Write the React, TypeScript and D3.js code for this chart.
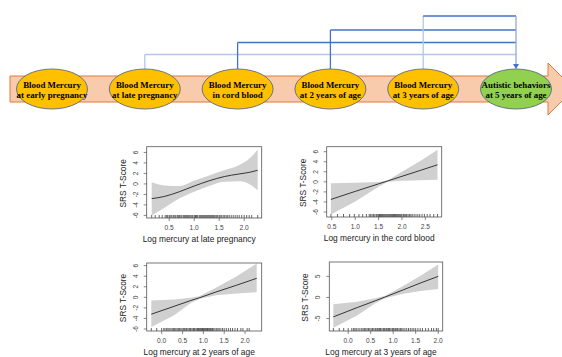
import React, { useEffect, useRef } from 'react';
import * as d3 from 'd3';

// timeline nodes
const nodeLabels = [
  ['Blood Mercury', 'at early pregnancy'],
  ['Blood Mercury', 'at late pregnancy'],
  ['Blood Mercury', 'in cord blood'],
  ['Blood Mercury', 'at 2 years of age'],
  ['Blood Mercury', 'at 3 years of age'],
  ['Autistic behaviors', 'at 5 years of age'],
];
// which nodes link to the outcome
const linkSources = [1, 2, 3, 4];

// late pregnancy
const lateX = [0.15, 0.4, 0.7, 1.0, 1.3, 1.6, 1.9, 2.1, 2.27];
const lateFit = [-2.8, -2.4, -1.5, -0.4, 0.6, 1.4, 1.9, 2.2, 2.6];
const lateUpper = [0.3, -0.3, -0.4, 0.6, 1.6, 2.6, 3.6, 4.8, 6.5];
const lateLower = [-6.0, -4.6, -2.8, -1.5, -0.4, 0.4, 0.5, 0.0, -1.2];
const lateRug = [0.15, 0.22, 0.3, 0.36, 0.42, 0.45, 0.47, 0.5, 0.52, 0.55, 0.58, 0.6, 0.63, 0.66, 0.68, 0.7, 0.72, 0.75, 0.78, 0.8, 0.82, 0.84, 0.86, 0.88, 0.9, 0.92, 0.95, 0.97, 1.0, 1.02, 1.03, 1.05, 1.07, 1.1, 1.12, 1.14, 1.16, 1.18, 1.2, 1.22, 1.24, 1.26, 1.28, 1.3, 1.32, 1.34, 1.36, 1.38, 1.4, 1.42, 1.45, 1.47, 1.5, 1.52, 1.55, 1.58, 1.61, 1.64, 1.67, 1.7, 1.74, 1.78, 1.82, 1.86, 1.9, 1.95, 2.0, 2.05, 2.1, 2.15, 2.27];

// cord blood
const cordX = [0.48, 1.0, 1.5, 1.7, 2.0, 2.4, 2.76];
const cordFit = [-3.5, -1.9, -0.4, 0.2, 1.1, 2.3, 3.4];
const cordUpper = [-0.3, -0.2, -0.05, 0.3, 2.0, 4.2, 6.4];
const cordLower = [-6.5, -3.9, -1.0, 0.0, 0.2, 0.3, 0.4];
const cordRug = [0.48, 0.62, 0.75, 0.88, 0.98, 1.08, 1.16, 1.24, 1.3, 1.33, 1.36, 1.39, 1.42, 1.45, 1.47, 1.5, 1.52, 1.54, 1.56, 1.58, 1.6, 1.62, 1.64, 1.66, 1.68, 1.7, 1.72, 1.74, 1.76, 1.78, 1.8, 1.82, 1.84, 1.86, 1.88, 1.9, 1.92, 1.94, 1.96, 1.98, 2.0, 2.03, 2.05, 2.08, 2.1, 2.13, 2.16, 2.19, 2.22, 2.26, 2.3, 2.34, 2.38, 2.43, 2.48, 2.54, 2.6, 2.68, 2.76];

// 2 years
const y2X = [-0.25, 0.3, 0.7, 0.9, 1.3, 1.8, 2.28];
const y2Fit = [-3.2, -1.7, -0.6, -0.1, 1.0, 2.3, 3.6];
const y2Upper = [-0.6, -0.4, -0.1, 0.2, 1.8, 4.0, 6.4];
const y2Lower = [-5.6, -3.4, -1.1, -0.3, 0.4, 0.7, 0.95];
const y2Rug = [-0.25, -0.12, 0.0, 0.05, 0.08, 0.12, 0.15, 0.18, 0.22, 0.25, 0.28, 0.31, 0.34, 0.37, 0.4, 0.43, 0.46, 0.49, 0.52, 0.55, 0.58, 0.6, 0.63, 0.66, 0.68, 0.7, 0.73, 0.76, 0.78, 0.8, 0.83, 0.86, 0.88, 0.9, 0.92, 0.94, 0.96, 0.98, 1.0, 1.02, 1.04, 1.06, 1.08, 1.1, 1.12, 1.15, 1.17, 1.2, 1.22, 1.25, 1.28, 1.32, 1.35, 1.38, 1.42, 1.46, 1.5, 1.55, 1.6, 1.65, 1.7, 1.76, 1.82, 1.9, 1.95, 2.05, 2.1];

// 3 years
const y3X = [-0.33, 0.2, 0.6, 0.82, 1.2, 1.6, 2.0];
const y3Fit = [-4.6, -2.4, -0.8, 0.1, 1.7, 3.4, 5.0];
const y3Upper = [-1.6, -1.0, -0.2, 0.4, 2.6, 5.1, 7.8];
const y3Lower = [-7.2, -4.3, -1.4, -0.2, 0.8, 1.5, 2.0];
const y3Rug = [-0.33, -0.2, -0.1, 0.0, 0.08, 0.12, 0.15, 0.18, 0.22, 0.26, 0.3, 0.33, 0.36, 0.39, 0.42, 0.45, 0.48, 0.51, 0.54, 0.57, 0.6, 0.62, 0.65, 0.68, 0.7, 0.72, 0.75, 0.78, 0.8, 0.82, 0.85, 0.88, 0.9, 0.92, 0.95, 0.98, 1.0, 1.02, 1.05, 1.08, 1.1, 1.13, 1.16, 1.19, 1.22, 1.26, 1.3, 1.34, 1.38, 1.42, 1.46, 1.5, 1.55, 1.6, 1.65, 1.72, 1.78, 1.85, 1.9, 1.96, 2.0];

const panels = [
  { title: 'Log mercury at late pregnancy', box: [146.7, 146.7, 261.7, 218], xDomain: [0.05, 2.35], yDomain: [-6.5, 7.1], xTicks: [0.5, 1, 1.5, 2], yTicks: [-6, -4, -2, 0, 2, 4, 6], x: lateX, fit: lateFit, upper: lateUpper, lower: lateLower, rug: lateRug, smooth: true },
  { title: 'Log mercury in the cord blood', box: [326.7, 146.7, 441.7, 217], xDomain: [0.39, 2.85], yDomain: [-7.0, 7.0], xTicks: [0.5, 1, 1.5, 2, 2.5], yTicks: [-6, -4, -2, 0, 2, 4, 6], x: cordX, fit: cordFit, upper: cordUpper, lower: cordLower, rug: cordRug, smooth: false },
  { title: 'Log mercury at 2 years of age', box: [146.7, 263, 261.7, 331], xDomain: [-0.36, 2.4], yDomain: [-6.38, 6.5], xTicks: [0, 0.5, 1, 1.5, 2], yTicks: [-6, -4, -2, 0, 2, 4, 6], x: y2X, fit: y2Fit, upper: y2Upper, lower: y2Lower, rug: y2Rug, smooth: false },
  { title: 'Log mercury at 3 years of age', box: [329.3, 262, 442.7, 331], xDomain: [-0.42, 2.1], yDomain: [-7.95, 8.4], xTicks: [0, 0.5, 1, 1.5, 2], yTicks: [-5, 0, 5], x: y3X, fit: y3Fit, upper: y3Upper, lower: y3Lower, rug: y3Rug, smooth: false },
];

export default function App() {
  const ref = useRef<SVGSVGElement>(null);

  useEffect(() => {
    const svg = d3.select(ref.current);
    svg.selectAll('*').remove();

    // ---- timeline ----
    const top = svg.append('g');
    const nodeX = d3.scalePoint<number>().domain(d3.range(nodeLabels.length)).range([52, 516]);
    const cy = 89, rx = 35.5, ry = 20;

    top.append('path')
      .attr('d', 'M10,76 H548 V63 L574,89 L548,115 V102 H10 Z')
      .attr('fill', '#F8CBAD').attr('stroke', '#E07B39').attr('stroke-width', 1);

    // connectors, one level per source
    const levels = [54.5, 42.5, 30, 16];
    const colors = ['#B4C7E7', '#4472C4', '#4472C4', '#4472C4'];
    const target = nodeX(5)!;
    linkSources.forEach((s, i) => {
      const sx = nodeX(s)!;
      top.append('line').attr('x1', sx).attr('x2', sx).attr('y1', cy - ry).attr('y2', levels[i])
        .attr('stroke', i === 3 || i === 0 ? '#B4C7E7' : colors[i]).attr('stroke-width', 1.3);
      top.append('line').attr('x1', sx).attr('x2', target).attr('y1', levels[i]).attr('y2', levels[i])
        .attr('stroke', colors[i]).attr('stroke-width', 1.3);
    });
    top.append('line').attr('x1', target).attr('x2', target).attr('y1', d3.min(levels)!).attr('y2', cy - ry - 4)
      .attr('stroke', '#8FAADC').attr('stroke-width', 1.3);
    top.append('path')
      .attr('d', `M${target - 3},${cy - ry - 5} L${target + 3},${cy - ry - 5} L${target},${cy - ry} Z`)
      .attr('fill', '#4472C4');

    nodeLabels.forEach((lines, i) => {
      const g = top.append('g').attr('transform', `translate(${nodeX(i)},${cy})`);
      g.append('ellipse').attr('rx', rx).attr('ry', ry)
        .attr('fill', i === 5 ? '#92D050' : '#FFC000').attr('stroke', '#5B6B85').attr('stroke-width', 0.9);
      lines.forEach((t, j) => {
        g.append('text').attr('y', j === 0 ? -1.5 : 9).attr('text-anchor', 'middle')
          .style('font-family', '"Liberation Serif", "DejaVu Serif", serif').style('font-weight', 'bold')
          .style('font-size', '8.9px').attr('fill', '#000').text(t);
      });
    });

    // ---- panels ----
    const sans = '"Liberation Sans", Arial, sans-serif';
    panels.forEach(p => {
      const [x0, y0, x1, y1] = p.box;
      const xs = d3.scaleLinear().domain(p.xDomain).range([x0, x1]);
      const ys = d3.scaleLinear().domain(p.yDomain).range([y1, y0]);
      const g = svg.append('g');
      const pts = p.x.map((v, i) => ({ x: v, f: p.fit[i], u: p.upper[i], l: p.lower[i] }));
      const curve = p.smooth ? d3.curveMonotoneX : d3.curveLinear;

      g.append('path').datum(pts)
        .attr('d', d3.area<any>().x(d => xs(d.x)).y0(d => ys(d.l)).y1(d => ys(d.u)).curve(curve))
        .attr('fill', '#D0D0D0');
      g.append('path').datum(pts)
        .attr('d', d3.line<any>().x(d => xs(d.x)).y(d => ys(d.f)).curve(curve))
        .attr('fill', 'none').attr('stroke', '#222').attr('stroke-width', 0.9);

      // rug
      g.selectAll('.rug').data(p.rug).join('line')
        .attr('x1', d => xs(d)).attr('x2', d => xs(d)).attr('y1', y1).attr('y2', y1 - 3)
        .attr('stroke', '#222').attr('stroke-width', 0.7);

      g.append('rect').attr('x', x0).attr('y', y0).attr('width', x1 - x0).attr('height', y1 - y0)
        .attr('fill', 'none').attr('stroke', '#555').attr('stroke-width', 0.8);

      // x axis
      const xTicks = g.selectAll('.xt').data(p.xTicks).join('g')
        .attr('transform', d => `translate(${xs(d)},${y1})`);
      xTicks.append('line').attr('y2', 3).attr('stroke', '#555').attr('stroke-width', 0.7);
      xTicks.append('text').attr('y', 11.5).attr('text-anchor', 'middle')
        .style('font-family', sans).style('font-size', '6.6px').attr('fill', '#444')
        .text(d => d3.format('.1f')(d));
      g.append('text').attr('x', (x0 + x1) / 2 - 5).attr('y', y1 + 24).attr('text-anchor', 'middle')
        .style('font-family', sans).style('font-size', '8.4px').attr('fill', '#222').text(p.title);

      // y axis
      const yTicks = g.selectAll('.yt').data(p.yTicks).join('g')
        .attr('transform', d => `translate(${x0},${ys(d)})`);
      yTicks.append('line').attr('x2', -3).attr('stroke', '#555').attr('stroke-width', 0.7);
      yTicks.append('text').attr('transform', 'translate(-9,0) rotate(-90)').attr('text-anchor', 'middle')
        .style('font-family', sans).style('font-size', '6.6px').attr('fill', '#444')
        .text(d => String(d));
      g.append('text').attr('transform', `translate(${x0 - 21},${(y0 + y1) / 2 + 1}) rotate(-90)`)
        .attr('text-anchor', 'middle')
        .style('font-family', sans).style('font-size', '8.3px').attr('fill', '#222').text('SRS T-Score');
    });
  }, []);

  return (
    <svg ref={ref} width={562} height={357}
      style={{ position: 'absolute', left: 0, top: 0, background: '#fff', display: 'block' }} />
  );
}
